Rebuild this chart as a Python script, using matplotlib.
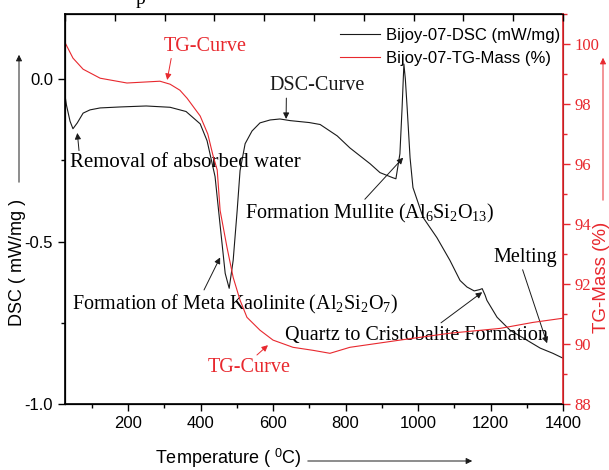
import matplotlib
matplotlib.use("Agg")
import matplotlib.pyplot as plt
from matplotlib.patches import FancyArrowPatch
from matplotlib.ticker import MultipleLocator, FixedLocator

# DSC curve (left axis)
dsc_temp = [26, 30, 40, 48, 60, 76, 95, 123, 178, 250, 316, 360, 399, 418,
            440, 454, 468, 479, 490, 501, 509, 523, 542, 564, 592, 619, 647,
            700, 730, 777, 812, 868, 895, 931, 939, 950, 956, 961, 965, 970,
            978, 986, 1014, 1052, 1088, 1116, 1135, 1155, 1170, 1177, 1185,
            1190, 1218, 1254, 1301, 1337, 1372, 1400]
dsc_val = [-0.05, -0.08, -0.13, -0.153, -0.135, -0.105, -0.095, -0.089,
           -0.086, -0.083, -0.087, -0.10, -0.138, -0.19, -0.30, -0.45, -0.598,
           -0.644, -0.558, -0.405, -0.282, -0.199, -0.160, -0.135, -0.126,
           -0.123, -0.128, -0.134, -0.140, -0.175, -0.212, -0.261, -0.288,
           -0.304, -0.307, -0.230, -0.089, 0.046, 0.0, -0.089, -0.242, -0.334,
           -0.426, -0.488, -0.558, -0.620, -0.640, -0.652, -0.648, -0.645,
           -0.665, -0.681, -0.733, -0.773, -0.804, -0.828, -0.844, -0.859]

# TG curve (right axis)
tg_temp = [26, 48, 76, 123, 197, 288, 316, 343, 363, 399, 420, 434, 446, 454,
           473, 490, 509, 528, 564, 600, 655, 710, 757, 812, 950, 1088, 1226,
           1317, 1400]
tg_val = [100.05, 99.53, 99.16, 98.86, 98.70, 98.76, 98.66, 98.46, 98.19,
          97.6, 97.0, 96.3, 95.8, 94.45, 93.22, 92.22, 91.46, 90.89, 90.46,
          90.13, 89.89, 89.79, 89.69, 89.89, 90.13, 90.36, 90.52, 90.72, 90.86]

RED = "#e8282e"
INK = "#1a1a1a"

plt.rcParams.update({
    "font.family": "Liberation Sans",
    "mathtext.fontset": "custom",
    "mathtext.rm": "Liberation Serif",
    "mathtext.it": "Liberation Serif:italic",
    "mathtext.sf": "Liberation Sans",
})
SERIF = "Liberation Serif"

fig = plt.figure(figsize=(6.09, 4.70), dpi=100)
ax = fig.add_axes([0.1067, 0.1404, 0.8178, 0.8298])
ax2 = ax.twinx()

l1, = ax.plot(dsc_temp, dsc_val, color=INK, lw=0.8, label="Bijoy-07-DSC (mW/mg)")
l2, = ax2.plot(tg_temp, tg_val, color=RED, lw=0.8, label="Bijoy-07-TG-Mass (%)")

ax.set_xlim(26, 1400)
ax.set_ylim(-1.0, 0.2)
ax2.set_ylim(88, 101)

ax.xaxis.set_major_locator(FixedLocator([200, 400, 600, 800, 1000, 1200, 1400]))
ax.xaxis.set_minor_locator(MultipleLocator(100))
ax.yaxis.set_major_locator(FixedLocator([-1.0, -0.5, 0.0]))
ax.yaxis.set_minor_locator(MultipleLocator(0.25))
ax.tick_params(axis="both", which="major", direction="out", length=5,
               width=1.0, labelsize=12, top=False)
ax.tick_params(axis="both", which="minor", direction="out", length=3,
               width=1.0, top=False)
ax.set_yticklabels(["-1.0", "-0.5", "0.0"])

ax2.yaxis.set_major_locator(MultipleLocator(2))
ax2.yaxis.set_minor_locator(MultipleLocator(1))
ax2.tick_params(axis="y", which="both", colors=RED, direction="out", width=1.0)
ax2.tick_params(axis="y", which="major", length=5)
ax2.tick_params(axis="y", which="minor", length=3)
for t in ax2.get_yticklabels():
    t.set_fontfamily(SERIF)
    t.set_fontsize(12)
ax2.spines["right"].set_color(RED)
ax2.spines["right"].set_linewidth(1.2)
for s in ("left", "bottom", "top"):
    ax.spines[s].set_linewidth(1.2)

# unlabelled inward ticks along the top edge
ax3 = ax.twiny()
ax3.set_xlim(0, 10)
ax3.set_xticks(range(11))
ax3.tick_params(axis="x", direction="in", length=5, width=1.0, labeltop=False)
ax3.spines["right"].set_visible(False)

ax.legend(handles=[l1, l2], loc="upper right", bbox_to_anchor=(1.012, 0.985),
          frameon=False, fontsize=12, handlelength=2.4, handletextpad=0.4,
          labelspacing=0.45, borderaxespad=0.1)

# annotations (serif, like the original)
arrow_k = dict(arrowstyle="-|>", lw=0.7, color=INK, mutation_scale=9,
               shrinkA=0, shrinkB=0)
arrow_r = dict(arrowstyle="-|>", lw=0.7, color=RED, mutation_scale=9,
               shrinkA=0, shrinkB=0)
fs = 14.5

ax.annotate("TG-Curve", xy=(308, -0.003), xytext=(412, 0.101), color=RED,
            fontsize=fs, family=SERIF, ha="center", va="center",
            arrowprops=dict(arrow_r, relpos=(0.1, 0.0)))
ax.annotate("DSC-Curve", xy=(636, -0.123), xytext=(721, -0.021), color=INK,
            fontsize=fs, family=SERIF, ha="center", va="center",
            arrowprops=dict(arrow_k, relpos=(0.18, 0.0)))
ax.annotate("Removal of absorbed water", xy=(60, -0.166), xytext=(40, -0.258),
            fontsize=15, family=SERIF, ha="left", va="center",
            arrowprops=dict(arrow_k, relpos=(0.04, 1.0)))
ax.annotate(r"Formation Mullite (Al$_6$Si$_2$O$_{13}$)", xy=(959, -0.242),
            xytext=(523, -0.414), fontsize=fs, family=SERIF, ha="left",
            va="center", arrowprops=dict(arrow_k, relpos=(0.47, 1.0)))
ax.annotate(r"Formation of Meta Kaolinite (Al$_2$Si$_2$O$_7$)", xy=(454, -0.549),
            xytext=(46, -0.693), fontsize=fs, family=SERIF, ha="left",
            va="center", arrowprops=dict(arrow_k, relpos=(0.40, 1.0)))
ax.annotate("Quartz to Cristobalite Formation", xy=(1177, -0.656),
            xytext=(633, -0.788), fontsize=fs, family=SERIF, ha="left",
            va="center", arrowprops=dict(arrow_k, relpos=(0.55, 0.7)))
ax.annotate("Melting", xy=(1356, -0.813), xytext=(1207, -0.549),
            fontsize=fs, family=SERIF, ha="left", va="center",
            arrowprops=dict(arrow_k, relpos=(0.45, 0.0)))
ax.annotate("TG-Curve", xy=(586, -0.819), xytext=(421, -0.887), color=RED,
            fontsize=fs, family=SERIF, ha="left", va="center",
            arrowprops=dict(arrow_r, relpos=(0.55, 1.0)))

# axis titles with their arrows
W, H = 609, 470
fig.text(18 / W, 1 - 262 / H, "DSC ( mW/mg )", rotation=90, ha="center",
         va="center", fontsize=13)
fig.add_artist(FancyArrowPatch(
    (19 / W, 1 - 185 / H), (19 / W, 1 - 52 / H), transform=fig.transFigure,
    arrowstyle="-|>", mutation_scale=9, lw=0.7, color=INK))
fig.text(601 / W, 1 - 277 / H, "TG-Mass (%)", rotation=90, ha="center",
         va="center", fontsize=13.5, color=RED)
fig.add_artist(FancyArrowPatch(
    (603 / W, 1 - 203 / H), (603 / W, 1 - 55 / H), transform=fig.transFigure,
    arrowstyle="-|>", mutation_scale=9, lw=0.7, color=RED))
fig.text(228 / W, 1 - 458 / H, r"Temperature ( $^{\mathsf{0}}$C)", ha="center",
         va="center", fontsize=13)
fig.add_artist(FancyArrowPatch(
    (305 / W, 1 - 461 / H), (475 / W, 1 - 461 / H), transform=fig.transFigure,
    arrowstyle="-|>", mutation_scale=9, lw=0.7, color=INK))

# clipped glyph from the source page at the very top
fig.text(140 / W, 1.0, "p", family=SERIF, fontsize=14, ha="center", va="center")

fig.savefig("out.png", dpi=100)
